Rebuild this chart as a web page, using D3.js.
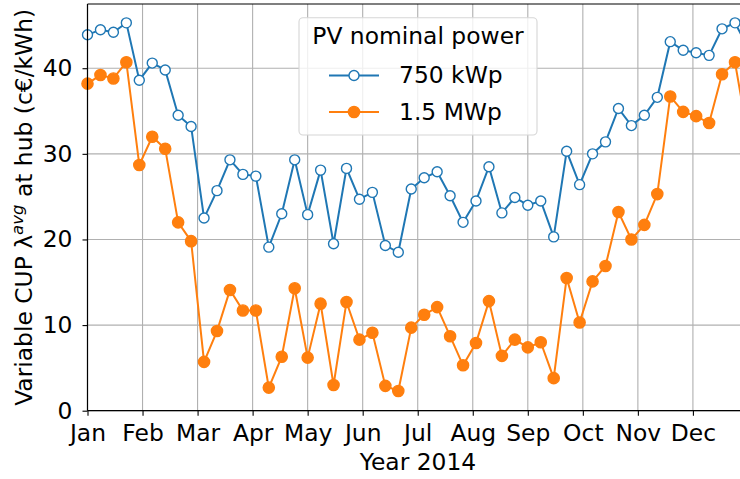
<!DOCTYPE html>
<html>
<head>
<meta charset="utf-8">
<script src="https://cdn.jsdelivr.net/npm/d3@7"></script>
<style>
  html, body { margin: 0; padding: 0; background: #fff; }
  svg { display: block; font-family: "DejaVu Sans", sans-serif; }
</style>
</head>
<body>
<svg id="chart" width="740" height="479"></svg>
<script>
// Weekly average variable CUP at the hub during 2014 (c€/kWh), week index 0..51
const monthLabels = ["Jan", "Feb", "Mar", "Apr", "May", "Jun", "Jul", "Aug", "Sep", "Oct", "Nov", "Dec"];
const weeksPerMonth = 51 / 12;
const yTicks = [0, 10, 20, 30, 40];

const series750kWp = [
  43.9, 44.5, 44.2, 45.3, 38.6, 40.6, 39.8, 34.5, 33.2, 22.5,
  25.7, 29.3, 27.6, 27.4, 19.1, 23.0, 29.3, 22.9, 28.1, 19.5,
  28.3, 24.7, 25.5, 19.3, 18.5, 25.9, 27.2, 27.9, 25.1, 22.0,
  24.5, 28.5, 23.1, 24.9, 24.0, 24.5, 20.3, 30.3, 26.4, 30.0,
  31.4, 35.3, 33.3, 34.5, 36.6, 43.1, 42.1, 41.8, 41.5, 44.6,
  45.3, 42.4
];
const series1500kWp = [
  38.2, 39.2, 38.8, 40.7, 28.7, 32.0, 30.6, 22.0, 19.8, 5.7,
  9.3, 14.1, 11.7, 11.7, 2.7, 6.3, 14.3, 6.2, 12.5, 3.0,
  12.7, 8.3, 9.1, 2.9, 2.3, 9.7, 11.2, 12.1, 8.7, 5.3,
  7.9, 12.8, 6.4, 8.3, 7.4, 8.0, 3.8, 15.5, 10.3, 15.1,
  16.9, 23.2, 20.0, 21.7, 25.3, 36.7, 34.9, 34.4, 33.6, 39.3,
  40.7, 32.0
];
const seriesNames = ["750 kWp", "1.5 MWp"];
const legendTitle = "PV nominal power";

const svg = d3.select("#chart");
const W = 740, H = 479;
const plot = { left: 87.5, top: 4, bottom: 410.7, right: 87.5 + 52 * 12.95 };

const x = d3.scaleLinear().domain([0, 52]).range([plot.left, plot.right]);
const y = d3.scaleLinear().domain([0, 47.5]).range([plot.bottom, plot.top]);

const monthTicks = monthLabels.map((_, i) => i * weeksPerMonth);
const blue = "#1f77b4", orange = "#ff7f0e";
const fontSize = 23.4;

// Grid
const grid = svg.append("g");
grid.selectAll("line.vx").data(monthTicks).join("line")
  .attr("x1", d => x(d)).attr("x2", d => x(d))
  .attr("y1", plot.top).attr("y2", plot.bottom)
  .attr("stroke", "#b0b0b0").attr("stroke-width", 1.1);
grid.selectAll("line.hy").data(yTicks).join("line")
  .attr("x1", plot.left).attr("x2", W + 10)
  .attr("y1", d => y(d)).attr("y2", d => y(d))
  .attr("stroke", "#b0b0b0").attr("stroke-width", 1.1);

// Series
const line = d3.line().x((d, i) => x(i)).y(d => y(d));
function drawSeries(data, color, filled) {
  const g = svg.append("g");
  g.append("path").datum(data)
    .attr("d", line)
    .attr("fill", "none").attr("stroke", color).attr("stroke-width", 2);
  g.selectAll("circle").data(data).join("circle")
    .attr("cx", (d, i) => x(i)).attr("cy", d => y(d))
    .attr("r", filled ? 5.6 : 5)
    .attr("fill", filled ? color : "#fff")
    .attr("stroke", color).attr("stroke-width", 1.4);
}
drawSeries(series750kWp, blue, false);
drawSeries(series1500kWp, orange, true);

// Axes
const xAxis = d3.axisBottom(x).tickValues(monthTicks)
  .tickFormat((d, i) => monthLabels[i]).tickSize(5).tickPadding(9);
const gx = svg.append("g").attr("transform", `translate(0,${plot.bottom})`).call(xAxis);
gx.select(".domain").attr("d", `M${plot.left},0H${W + 10}`).attr("stroke", "#000").attr("stroke-width", 1.2);
gx.selectAll(".tick line").attr("stroke", "#000").attr("stroke-width", 1.1);
gx.selectAll(".tick text").attr("font-size", fontSize).attr("fill", "#000")
  .attr("font-family", "DejaVu Sans");

const yAxis = d3.axisLeft(y).tickValues(yTicks).tickSize(5).tickPadding(10);
const gy = svg.append("g").attr("transform", `translate(${plot.left},0)`).call(yAxis);
gy.select(".domain").attr("d", `M0,${plot.top}V${plot.bottom}`).attr("stroke", "#000").attr("stroke-width", 1.2);
gy.selectAll(".tick line").attr("stroke", "#000").attr("stroke-width", 1.1);
gy.selectAll(".tick text").attr("font-size", fontSize).attr("fill", "#000")
  .attr("font-family", "DejaVu Sans");

// Top spine
svg.append("line").attr("x1", plot.left).attr("x2", W + 10)
  .attr("y1", plot.top).attr("y2", plot.top)
  .attr("stroke", "#000").attr("stroke-width", 1.2);

// Axis titles
svg.append("text").attr("x", 418).attr("y", 470)
  .attr("text-anchor", "middle").attr("font-size", fontSize).text("Year 2014");

const yl = svg.append("text")
  .attr("transform", `translate(32,${(plot.top + plot.bottom) / 2}) rotate(-90)`)
  .attr("text-anchor", "middle").attr("font-size", fontSize);
yl.append("tspan").text("Variable CUP λ");
yl.append("tspan").attr("dy", -9).attr("font-size", 16.5).attr("font-style", "italic").text("avg");
yl.append("tspan").attr("dy", 9).text(" at hub (c€/kWh)");

// Legend
const lg = svg.append("g");
lg.append("rect").attr("x", 299).attr("y", 17.7).attr("width", 238).attr("height", 117.3)
  .attr("rx", 4).attr("fill", "#fff").attr("fill-opacity", 0.8)
  .attr("stroke", "#d6d6d6").attr("stroke-width", 1.1);
lg.append("text").attr("x", 418).attr("y", 43.5).attr("text-anchor", "middle")
  .attr("font-size", fontSize).text(legendTitle);
const legendRows = [
  { name: seriesNames[0], color: blue, filled: false, y: 75.5 },
  { name: seriesNames[1], color: orange, filled: true, y: 112 }
];
legendRows.forEach(r => {
  lg.append("line").attr("x1", 329).attr("x2", 379).attr("y1", r.y).attr("y2", r.y)
    .attr("stroke", r.color).attr("stroke-width", 2);
  lg.append("circle").attr("cx", 354).attr("cy", r.y).attr("r", r.filled ? 5.6 : 5)
    .attr("fill", r.filled ? r.color : "#fff").attr("stroke", r.color).attr("stroke-width", 1.4);
  lg.append("text").attr("x", 399).attr("y", r.y + 7.5).attr("font-size", fontSize).text(r.name);
});
</script>
</body>
</html>
